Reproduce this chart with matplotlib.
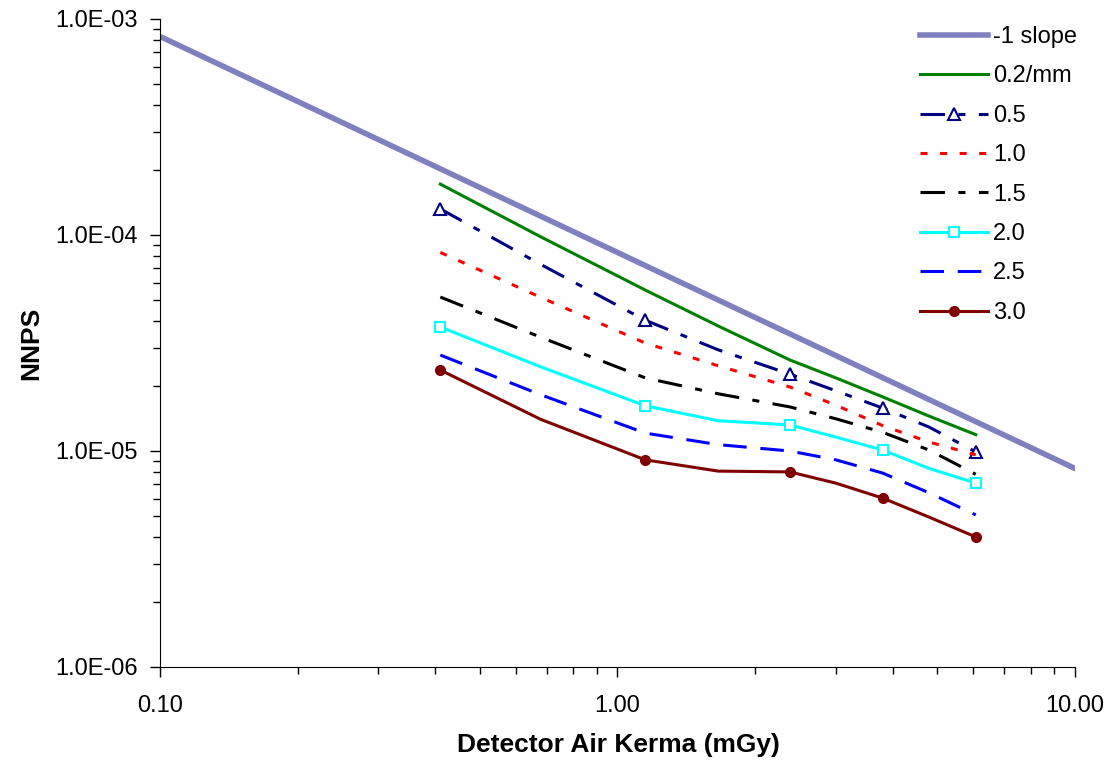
import matplotlib
matplotlib.use("Agg")
import matplotlib.pyplot as plt
from matplotlib.ticker import LogLocator, FuncFormatter, NullFormatter

plt.rcParams["font.family"] = ["Liberation Sans", "DejaVu Sans"]

# Reference line with -1 slope
slope_x = [0.1, 1.0, 10.0]
slope_y = [8.3e-4, 8.3e-5, 8.3e-6]

# Detector air kerma (mGy); markers sit on every other point
dose = [0.41, 0.68, 1.15, 1.66, 2.38, 3.0, 3.8, 4.8, 6.07]

nnps_02 = [1.72e-4, 9.8e-5, 5.56e-5, 3.79e-5, 2.64e-5, 2.18e-5, 1.78e-5, 1.45e-5, 1.19e-5]
nnps_05 = [1.32e-4, 7.3e-5, 4.03e-5, 2.94e-5, 2.27e-5, 1.90e-5, 1.58e-5, 1.29e-5, 9.9e-6]
nnps_10 = [8.3e-5, 5.14e-5, 3.16e-5, 2.48e-5, 1.98e-5, 1.63e-5, 1.31e-5, 1.10e-5, 9.6e-6]
nnps_15 = [5.16e-5, 3.36e-5, 2.18e-5, 1.84e-5, 1.60e-5, 1.41e-5, 1.22e-5, 1.01e-5, 7.8e-6]
nnps_20 = [3.75e-5, 2.45e-5, 1.62e-5, 1.38e-5, 1.32e-5, 1.16e-5, 1.01e-5, 8.3e-6, 7.1e-6]
nnps_25 = [2.78e-5, 1.82e-5, 1.21e-5, 1.07e-5, 1.0e-5, 9.1e-6, 7.9e-6, 6.4e-6, 5.06e-6]
nnps_30 = [2.37e-5, 1.40e-5, 9.1e-6, 8.07e-6, 8.0e-6, 7.1e-6, 6.05e-6, 4.94e-6, 4.0e-6]

labels = ["-1 slope", "0.2/mm", "0.5", "1.0", "1.5", "2.0", "2.5", "3.0"]

fig = plt.figure(figsize=(11.18, 7.71), dpi=100)
ax = fig.add_axes([0.1431, 0.1349, 0.8184, 0.8405])

mk = [0, 2, 4, 6, 8]
lw = 2.2

ax.plot(slope_x, slope_y, color="#8080c0", lw=4.0, label=labels[0])
ax.plot(dose, nnps_02, color="#008000", lw=lw, label=labels[1])
ax.plot(dose, nnps_05, color="#000080", lw=lw, ls=(0, (8, 4.4, 2.3, 4.4)),
        marker="^", ms=8.5, mfc="white", mec="#000080", mew=1.5,
        markevery=mk, label=labels[2])
ax.plot(dose, nnps_10, color="#ff0000", lw=lw, ls=(0, (2.3, 4.1)), label=labels[3])
ax.plot(dose, nnps_15, color="black", lw=lw, ls=(0, (8, 4.4, 2.3, 4.4)), label=labels[4])
ax.plot(dose, nnps_20, color="#00ffff", lw=lw, marker="s", ms=6.5,
        mfc="white", mec="#00ffff", mew=1.5, markevery=mk, label=labels[5])
ax.plot(dose, nnps_25, color="#0000ff", lw=lw, ls=(0, (7.7, 4.5)), label=labels[6])
ax.plot(dose, nnps_30, color="#800000", lw=lw, marker="o", ms=7,
        mfc="#800000", mec="#800000", markevery=mk, label=labels[7])

ax.set_xscale("log")
ax.set_yscale("log")
ax.set_xlim(0.1, 10)
ax.set_ylim(1e-6, 1e-3)

ax.xaxis.set_major_locator(LogLocator(base=10, numticks=10))
ax.xaxis.set_minor_locator(LogLocator(base=10, subs=range(2, 10), numticks=20))
ax.yaxis.set_major_locator(LogLocator(base=10, numticks=10))
ax.yaxis.set_minor_locator(LogLocator(base=10, subs=range(2, 10), numticks=20))
ax.xaxis.set_major_formatter(FuncFormatter(lambda v, p: f"{v:.2f}"))
ax.yaxis.set_major_formatter(FuncFormatter(lambda v, p: f"{v:.1E}"))
ax.xaxis.set_minor_formatter(NullFormatter())
ax.yaxis.set_minor_formatter(NullFormatter())

ax.spines["top"].set_visible(False)
ax.spines["right"].set_visible(False)
ax.tick_params(axis="both", which="major", direction="out", length=7, width=1, labelsize=17)
ax.tick_params(axis="both", which="minor", direction="out", length=5, width=1)
ax.tick_params(axis="x", which="major", pad=13)
ax.tick_params(axis="y", which="major", pad=9)

ax.set_xlabel("Detector Air Kerma (mGy)", fontsize=19, fontweight="bold")
ax.set_ylabel("NNPS", fontsize=19, fontweight="bold")
ax.xaxis.set_label_coords(0.501, -0.102)
ax.yaxis.set_label_coords(-0.128, 0.5)

ax.legend(loc="upper left", bbox_to_anchor=(920 / 1118, 1 - 26 / 771),
          bbox_transform=fig.transFigure, frameon=False, fontsize=17,
          handlelength=2.9, handletextpad=0.2, labelspacing=0.737,
          borderpad=0, borderaxespad=0, numpoints=1)

fig.savefig("out.png", dpi=100)
